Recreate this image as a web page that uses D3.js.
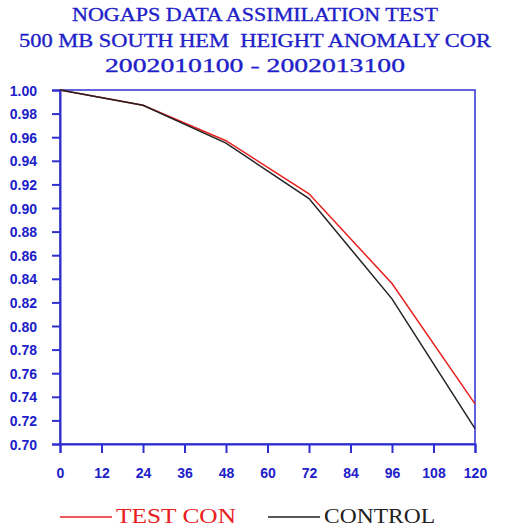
<!DOCTYPE html>
<html>
<head>
<meta charset="utf-8">
<script src="https://cdn.jsdelivr.net/npm/d3@7"></script>
<style>
  body { margin: 0; background: #fff; }
  svg { display: block; }
</style>
</head>
<body>
<svg id="chart" width="511" height="531"></svg>
<script>
// forecast hours and anomaly correlations
var hours = [0, 24, 48, 72, 96, 120];
var testCon = [1.000, 0.987, 0.957, 0.912, 0.836, 0.734];
var control = [1.000, 0.987, 0.955, 0.908, 0.823, 0.713];

var xTicks = [0, 12, 24, 36, 48, 60, 72, 84, 96, 108, 120];
var yTicks = d3.range(0.70, 1.001, 0.02);

var titles = ["NOGAPS DATA ASSIMILATION TEST",
	"500 MB SOUTH HEM  HEIGHT ANOMALY COR",
	"2002010100 - 2002013100"];

var blue = "#2f2fd0",
	labelBlue = "#2020c8";

// plot box (window.top is read-only, so don't call it "top")
var plotLeft = 60, plotRight = 475, plotTop = 90, plotBottom = 444;

var svg = d3.select("#chart");

var x = d3.scaleLinear().domain([0, 120]).range([plotLeft, plotRight]);
var y = d3.scaleLinear().domain([0.70, 1.00]).range([plotBottom, plotTop]);

// title
var titleY = [21, 47, 72],
	titleLen = [366, 472, 300];
svg.selectAll(".title").data(titles).enter()
	.append("text")
	.attr("class", "title")
	.attr("x", 255)
	.attr("y", function(d, i){ return titleY[i]; })
	.attr("text-anchor", "middle")
	.attr("textLength", function(d, i){ return titleLen[i]; })
	.attr("lengthAdjust", "spacingAndGlyphs")
	.attr("fill", labelBlue)
	.attr("stroke", labelBlue)
	.attr("stroke-width", 0.3)
	.attr("font-family", "Liberation Serif, DejaVu Serif, serif")
	.attr("font-size", "18px")
	.attr("xml:space", "preserve")
	.text(function(d){ return d; });

// frame (top and right)
svg.append("rect")
	.attr("x", plotLeft).attr("y", plotTop)
	.attr("width", plotRight - plotLeft).attr("height", plotBottom - plotTop)
	.attr("fill", "none")
	.attr("stroke", blue)
	.attr("stroke-width", 1.5);

// axes
var xAxis = d3.axisBottom(x).tickValues(xTicks).tickSize(9).tickPadding(15).tickFormat(d3.format("d"));
var yAxis = d3.axisLeft(y).tickValues(yTicks).tickSize(8).tickPadding(15).tickFormat(d3.format(".2f"));

var gx = svg.append("g").attr("transform", "translate(0," + plotBottom + ")").call(xAxis);
var gy = svg.append("g").attr("transform", "translate(" + plotLeft + ",0)").call(yAxis);

[gx, gy].forEach(function(g){
	g.select(".domain").attr("stroke", blue).attr("stroke-width", 2);
	g.selectAll(".tick line").attr("stroke", blue).attr("stroke-width", 2);
	g.selectAll(".tick text")
		.attr("fill", labelBlue)
		.attr("font-family", "Liberation Sans, Arial, sans-serif")
		.attr("font-weight", "bold")
		.attr("font-size", "14px");
});
gy.selectAll(".tick text").attr("dy", "0.36em");

// lines
var line = d3.line()
	.x(function(d){ return x(d[0]); })
	.y(function(d){ return y(d[1]); });

var series = [
	{name: "TEST CON", values: testCon, color: "#e82020"},
	{name: "CONTROL", values: control, color: "#222222"}
];

svg.selectAll(".series").data(series).enter()
	.append("path")
	.attr("class", "series")
	.attr("fill", "none")
	.attr("stroke", function(d){ return d.color; })
	.attr("stroke-width", 1.5)
	.attr("d", function(d){
		return line(hours.map(function(h, i){ return [h, d.values[i]]; }));
	});

// legend
var legendX = [60, 268];
var legend = svg.selectAll(".legend").data(series).enter()
	.append("g")
	.attr("class", "legend")
	.attr("transform", function(d, i){ return "translate(" + legendX[i] + ",517)"; });

legend.append("line")
	.attr("x1", 0).attr("x2", 52)
	.attr("y1", 0).attr("y2", 0)
	.attr("stroke", function(d){ return d.color; })
	.attr("stroke-width", 1.5);

legend.append("text")
	.attr("x", 56)
	.attr("y", 6)
	.attr("fill", function(d){ return d.color; })
	.attr("font-family", "Liberation Serif, DejaVu Serif, serif")
	.attr("font-size", "22px")
	.attr("textLength", function(d, i){ return i == 0 ? 120 : 111; })
	.attr("lengthAdjust", "spacingAndGlyphs")
	.text(function(d){ return d.name; });
</script>
</body>
</html>
